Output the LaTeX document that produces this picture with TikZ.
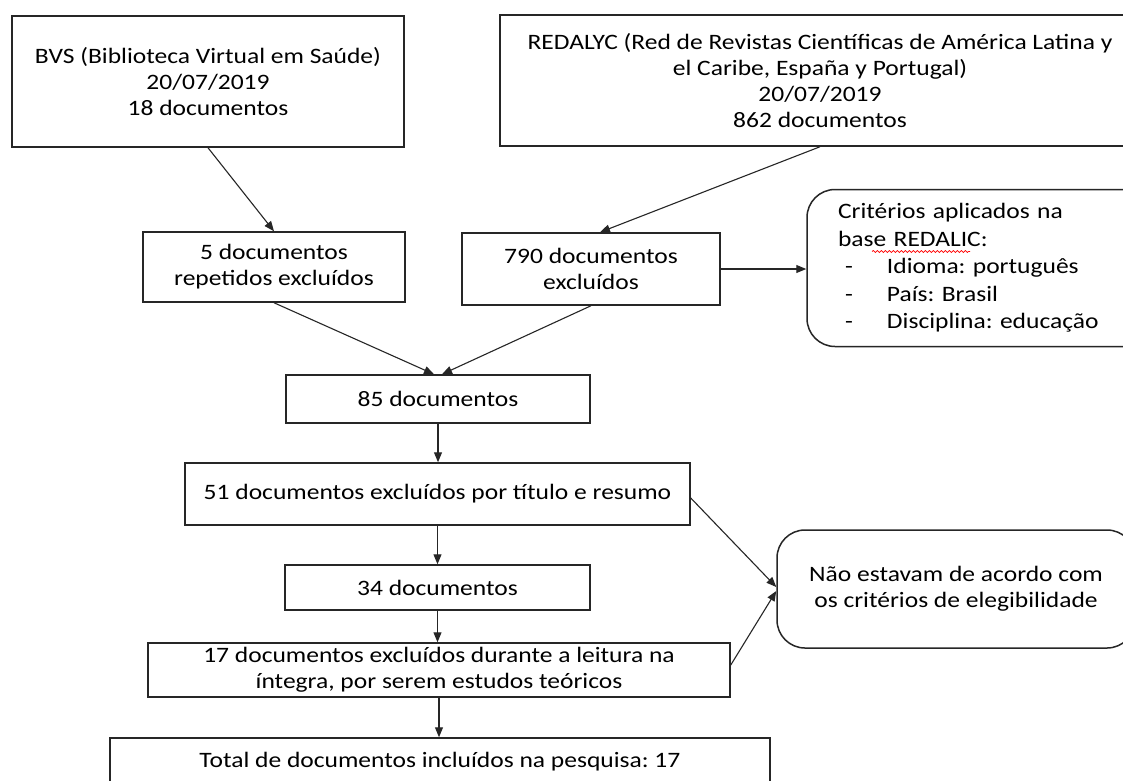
\documentclass[tikz,border=0pt]{standalone}
\usepackage{fontspec}
\setmainfont{Carlito}[FakeStretch=1.16]
\usetikzlibrary{arrows.meta,decorations.pathmorphing,calc}
\frenchspacing
\begin{document}
\begin{tikzpicture}[x=1pt,y=-1pt,
  box/.style={draw=black!85, line width=1.5pt, fill=white, align=center, inner sep=0pt, font=\fontsize{22}{26}\selectfont},
  rbox/.style={box, rounded corners=28pt},
  arr/.style={draw=black!85, line width=1.1pt, -{Triangle[length=10pt,width=8pt]}}]
\useasboundingbox (0,0) rectangle (1123,780);
\clip (0,0) rectangle (1123,780);
\fill[white] (0,0) rectangle (1123,780);

\node[box, minimum width=392pt, minimum height=131pt] (bvs) at (208,81.5)
  {BVS (Biblioteca Virtual em Saúde)\\20/07/2019\\18 documentos};
\node[box, minimum width=640pt, minimum height=131pt] (red) at (820,80.5)
  {REDALYC (Red de Revistas Científicas de América Latina y\\el Caribe, España y Portugal)\\20/07/2019\\862 documentos};
\node[box, minimum width=262pt, minimum height=70pt] (rep) at (274,267)
  {5 documentos\\repetidos excluídos};
\node[box, minimum width=258pt, minimum height=72pt] (exc) at (591,269)
  {790 documentos\\excluídos};
\node[rbox, align=left, text width=300pt, inner xsep=31pt, minimum height=157pt, font=\fontsize{22}{27.5}\selectfont] (crit) at (988,268)
  {Critérios aplicados na\\base REDALIC:\\\makebox[49pt][l]{\hspace{7pt}-}Idioma: português\\\makebox[49pt][l]{\hspace{7pt}-}País: Brasil\\\makebox[49pt][l]{\hspace{7pt}-}Disciplina: educação};
\node[box, minimum width=304pt, minimum height=48pt] (d85) at (438,399) {85 documentos};
\node[box, minimum width=505pt, minimum height=62pt] (d51) at (437.5,494) {51 documentos excluídos por título e resumo};
\node[box, minimum width=305pt, minimum height=45pt] (d34) at (437.5,587.5) {34 documentos};
\node[box, minimum width=582pt, minimum height=54pt] (d17) at (439,670)
  {17 documentos excluídos durante a leitura na\\íntegra, por serem estudos teóricos};
\node[box, minimum width=660pt, minimum height=48pt] (tot) at (440,762)
  {Total de documentos incluídos na pesquisa: 17};
\node[rbox, minimum width=358pt, minimum height=118pt] (nao) at (956,589)
  {Não estavam de acordo com\\os critérios de elegibilidade};

\draw[red, line width=0.7pt, decorate, decoration={snake, amplitude=1pt, segment length=4pt}] (872,251.5) -- (970,251.5);

\draw[arr] (bvs.south) -- (rep.north);
\draw[arr] (red.south) -- ([xshift=9pt]exc.north);
\draw[arr] (rep.south) -- ([xshift=-4pt]d85.north);
\draw[arr] (exc.south) -- ([xshift=4pt]d85.north);
\draw[arr] (exc.east) -- (exc.east -| crit.west);
\draw[arr] (d85.south) -- (d85.south |- d51.north);
\draw[arr] (d51.south) -- (d51.south |- d34.north);
\draw[arr] (d34.south) -- (d34.south |- d17.north);
\draw[arr] (d17.south) -- (d17.south |- tot.north);
\draw[arr] ([yshift=-4pt]d51.east) -- ([yshift=2pt]nao.west);
\draw[arr] ([yshift=5pt]d17.east) -- ([yshift=-2pt]nao.west);
\end{tikzpicture}
\end{document}
